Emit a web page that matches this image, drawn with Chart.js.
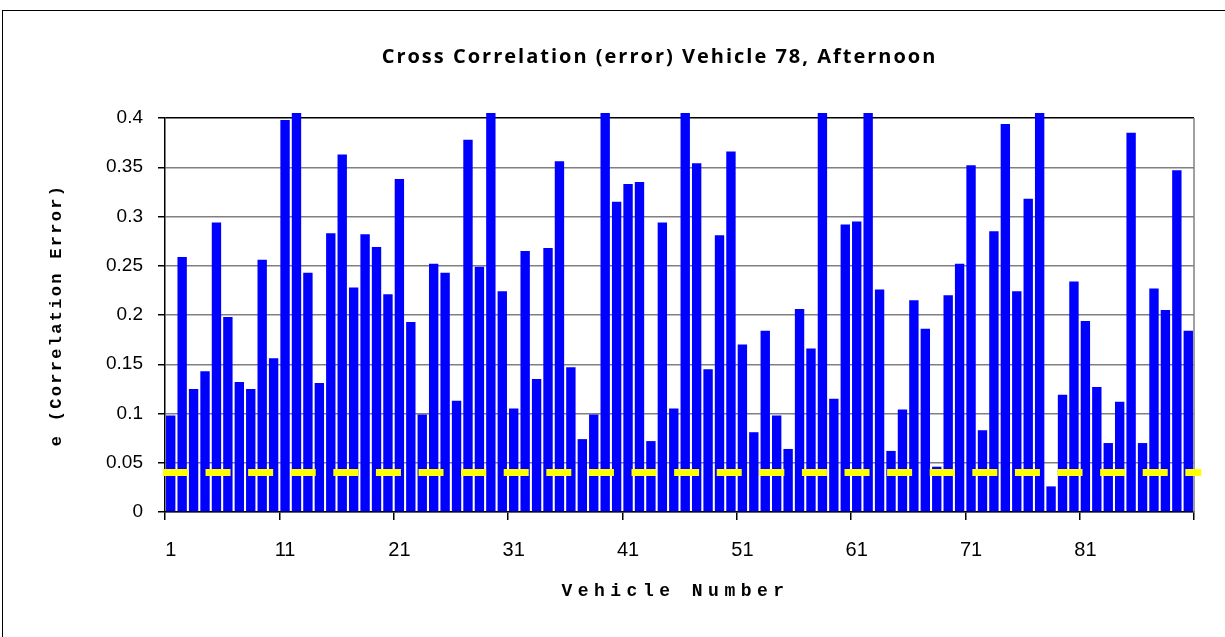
<!DOCTYPE html>
<html>
<head>
<meta charset="utf-8">
<title>Cross Correlation (error) Vehicle 78, Afternoon</title>
<script src="https://cdn.jsdelivr.net/npm/chart.js"></script>
<style>
  html, body { margin: 0; padding: 0; background: #fff; overflow: hidden; }
  #wrap { position: relative; width: 1225px; height: 637px; }
  #frame {
    position: absolute; left: 2px; top: 10px; width: 1300px; height: 700px;
    border-left: 1px solid #000; border-top: 1px solid #000; pointer-events: none;
  }
  canvas { position: absolute; left: 0; top: 0; }
</style>
</head>
<body>
<div id="wrap">
  <canvas id="errorChart" width="1225" height="637"></canvas>
  <div id="frame"></div>
</div>
<script>
// Vehicle numbers along the x axis
const vehicles = [
    1, 2, 3, 4, 5, 6, 7, 8, 9, 10,
    11, 12, 13, 14, 15, 16, 17, 18, 19, 20,
    21, 22, 23, 24, 25, 26, 27, 28, 29, 30,
    31, 32, 33, 34, 35, 36, 37, 38, 39, 40,
    41, 42, 43, 44, 45, 46, 47, 48, 49, 50,
    51, 52, 53, 54, 55, 56, 57, 58, 59, 60,
    61, 62, 63, 64, 65, 66, 67, 68, 69, 70,
    71, 72, 73, 74, 75, 76, 77, 78, 79, 80,
    81, 82, 83, 84, 85, 86, 87, 88, 89, 90
];

// e (correlation error) for each vehicle, bars above 0.4 run off the top
const correlationError = [
    0.098, 0.259, 0.125, 0.143, 0.294, 0.198, 0.132, 0.125, 0.256, 0.156,
    0.398, 0.420, 0.243, 0.131, 0.283, 0.363, 0.228, 0.282, 0.269, 0.221,
    0.338, 0.193, 0.099, 0.252, 0.243, 0.113, 0.378, 0.249, 0.420, 0.224,
    0.105, 0.265, 0.135, 0.268, 0.356, 0.147, 0.074, 0.099, 0.420, 0.315,
    0.333, 0.335, 0.072, 0.294, 0.105, 0.420, 0.354, 0.145, 0.281, 0.366,
    0.170, 0.081, 0.184, 0.098, 0.064, 0.206, 0.166, 0.420, 0.115, 0.292,
    0.295, 0.420, 0.226, 0.062, 0.104, 0.215, 0.186, 0.046, 0.220, 0.252,
    0.352, 0.083, 0.285, 0.394, 0.224, 0.318, 0.420, 0.026, 0.119, 0.234,
    0.194, 0.127, 0.070, 0.112, 0.385, 0.070, 0.227, 0.205, 0.347, 0.184
];

// dashed threshold line across the whole plot
const threshold = 0.04;
const thresholdSpan = [0, 1];

// tick labels
const yTickValues = [0, 0.05, 0.1, 0.15, 0.2, 0.25, 0.3, 0.35, 0.4];
const xTickLabels = [1, 11, 21, 31, 41, 51, 61, 71, 81];

// letter spacing for the title texts (canvas letterSpacing)
function withSpacing(target, method, spacing, shiftX) {
    const original = target[method];
    if (original.spaced) return;
    const wrapped = function (...args) {
        const ctx = this.ctx;
        ctx.save();
        ctx.letterSpacing = spacing;
        if (shiftX) ctx.translate(shiftX, 0);
        original.apply(this, args);
        ctx.restore();
    };
    wrapped.spaced = true;
    target[method] = wrapped;
}

const spacingPlugin = {
    id: 'spacing',
    afterLayout(chart) {
        withSpacing(chart.titleBlock, 'draw', '2px', -20);
        withSpacing(chart.scales.x, 'drawTitle', '5.5px', -4);
        withSpacing(chart.scales.y, 'drawTitle', '2.3px', 0);
    }
};

// right edge of the plot area
const frameRightPlugin = {
    id: 'frameRight',
    beforeDatasetsDraw(chart) {
        const { ctx, chartArea } = chart;
        ctx.save();
        ctx.strokeStyle = '#808080';
        ctx.lineWidth = 1.5;
        ctx.beginPath();
        ctx.moveTo(chartArea.right, chartArea.top);
        ctx.lineTo(chartArea.right, chartArea.bottom);
        ctx.stroke();
        ctx.restore();
    }
};

const ctx = document.getElementById('errorChart').getContext('2d');
const errorChart = new Chart(ctx, {
    type: 'bar',
    data: {
        labels: vehicles,
        datasets: [
            {
                type: 'line',
                label: 'Threshold',
                data: thresholdSpan.map(x => ({ x: x, y: threshold })),
                xAxisID: 'xLine',
                borderColor: '#FFFF00',
                borderWidth: 7,
                borderDash: [25, 17.6],
                borderCapStyle: 'butt',
                pointRadius: 0,
                fill: false,
                clip: false,
                order: 0
            },
            {
                label: 'e (Correlation Error)',
                data: correlationError,
                backgroundColor: '#0000FF',
                borderWidth: 0,
                grouped: false,
                barPercentage: 0.82,
                categoryPercentage: 1.0,
                clip: { left: 0, top: 5, right: 0, bottom: 0 },
                order: 1
            }
        ]
    },
    options: {
        responsive: false,
        animation: false,
        layout: { padding: { left: 0, right: 31, top: 0, bottom: 0 } },
        plugins: {
            legend: { display: false },
            tooltip: { enabled: false },
            title: {
                display: true,
                fullSize: false,
                text: 'Cross Correlation (error) Vehicle 78, Afternoon',
                color: '#000',
                font: { family: '"Open Sans", "Liberation Sans", sans-serif', size: 20, weight: 'bold' },
                padding: { top: 45, bottom: 49 }
            }
        },
        scales: {
            x: {
                type: 'category',
                offset: true,
                afterFit(scale) { scale.height = 125; },
                grid: {
                    offset: true,
                    drawOnChartArea: false,
                    tickLength: 8,
                    lineWidth: 1.5,
                    color(c) {
                        if (c.index === undefined) return '#000';
                        return c.index % 10 === 0 ? '#000' : 'rgba(0,0,0,0)';
                    }
                },
                border: { display: true, color: '#000', width: 1.5 },
                ticks: {
                    autoSkip: false,
                    maxRotation: 0,
                    padding: 18,
                    color: '#000',
                    font: { family: '"Liberation Sans", Arial, sans-serif', size: 20 },
                    callback(value, index) {
                        const label = vehicles[index];
                        return xTickLabels.includes(label) ? String(label) : '';
                    }
                },
                title: {
                    display: true,
                    text: 'Vehicle Number',
                    color: '#000',
                    font: { family: '"Liberation Mono", monospace', size: 18, weight: 'bold' },
                    padding: { top: 0, bottom: 35 }
                }
            },
            xLine: {
                type: 'linear',
                display: false,
                offset: false,
                min: 0.002,
                max: 0.993
            },
            y: {
                min: 0,
                max: 0.4,
                afterFit(scale) { scale.width = 165; },
                afterBuildTicks(scale) {
                    scale.ticks = yTickValues.map(v => ({ value: v }));
                },
                grid: {
                    tickLength: 7,
                    lineWidth: 1.5,
                    tickColor: '#000',
                    color(c) {
                        return c.tick && c.tick.value === 0.4 ? '#000' : '#808080';
                    }
                },
                border: { display: true, color: '#000', width: 1.5 },
                ticks: {
                    padding: 15,
                    color: '#000',
                    font: { family: '"Liberation Sans", Arial, sans-serif', size: 19 },
                    callback(value) { return String(+Number(value).toFixed(2)); }
                },
                title: {
                    display: true,
                    text: 'e (Correlation Error)',
                    color: '#000',
                    font: { family: '"Liberation Mono", monospace', size: 17, weight: 'bold' },
                    padding: { top: 47, bottom: 0 }
                }
            }
        }
    },
    plugins: [spacingPlugin, frameRightPlugin]
});
</script>
</body>
</html>
